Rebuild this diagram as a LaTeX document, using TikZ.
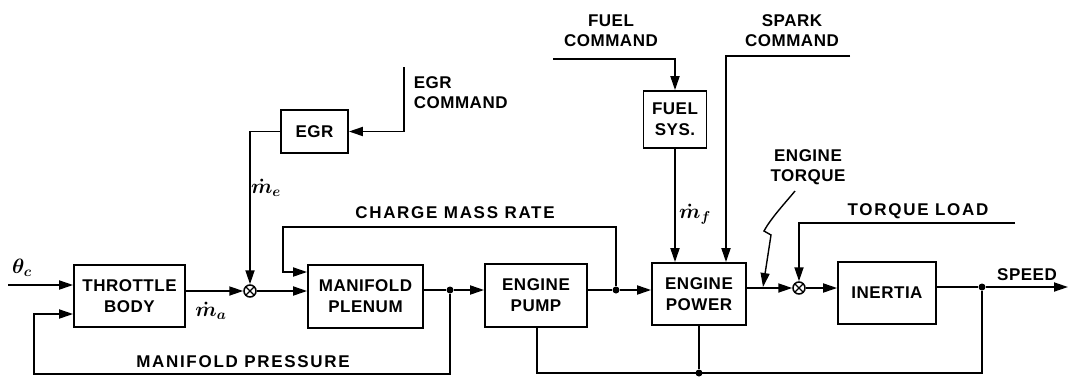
\documentclass[tikz,border=0pt]{standalone}
\usepackage{fontspec}
\setmainfont{Liberation Sans}
\newfontfamily\boxfont[LetterSpace=3,BoldFont={Liberation Sans Bold}]{Liberation Sans}
\newfontfamily\widefont[LetterSpace=10]{Liberation Sans}
\usetikzlibrary{arrows.meta}
\begin{document}
\begin{tikzpicture}[x=1pt,y=-1pt,
  line width=1.8pt,
  blk/.style={draw, rectangle, inner sep=0, align=center, line width=1.8pt,
    font=\boxfont\bfseries\fontsize{17}{21}\selectfont},
  arr/.style={-{Triangle[length=14pt,width=9pt]}},
  sumj/.style={circle, draw, minimum size=12pt, inner sep=0, line width=1.5pt,
    path picture={\draw[line width=1.3pt]
      (path picture bounding box.north west) -- (path picture bounding box.south east)
      (path picture bounding box.north east) -- (path picture bounding box.south west);}},
  dot/.style={circle, fill, inner sep=0, minimum size=7pt},
  lbl/.style={font=\boxfont\bfseries\fontsize{17}{20}\selectfont, align=center, inner sep=0},
  wlbl/.style={font=\widefont\bfseries\fontsize{17}{20}\selectfont, align=center, inner sep=0},
  sym/.style={font=\boldmath\fontsize{21}{24}\selectfont, inner sep=0}
]
\useasboundingbox (0,0) rectangle (1069,376);

% blocks
\node[blk, minimum width=111pt, minimum height=62pt] (throttle) at (129.5,296) {THROTTLE\\BODY};
\node[blk, minimum width=67pt, minimum height=43pt] (egr) at (314.5,131.5) {EGR};
\node[blk, minimum width=115pt, minimum height=63pt] (plenum) at (365.5,296.5) {MANIFOLD\\PLENUM};
\node[blk, minimum width=102pt, minimum height=63pt] (pump) at (536,295.5) {ENGINE\\PUMP};
\node[blk, minimum width=63pt, minimum height=57pt] (fuelsys) at (675,119.5) {FUEL\\SYS.};
\node[blk, minimum width=94pt, minimum height=62pt] (power) at (699,294) {ENGINE\\POWER};
\node[blk, minimum width=98pt, minimum height=62pt] (inertia) at (887,293) {INERTIA};

% summing junctions and branch dots
\node[sumj] (sum1) at (250,291) {};
\node[sumj] (sum2) at (799,288) {};
\node[dot] (dot1) at (450,290) {};
\node[dot] (dot2) at (616,290) {};
\node[dot] (dot3) at (982,287) {};
\node[dot] (dot4) at (699,373) {};

% free ends and corners
\coordinate (thin) at (8,285);
\coordinate (egrcmd) at (404,67);
\coordinate (cmr) at (283,227);
\coordinate (cmin) at (283,272);
\coordinate (mp1) at (450,374);
\coordinate (mp2) at (34,374);
\coordinate (mp3) at (34,314);
\coordinate (sp1) at (982,373);
\coordinate (sp2) at (537,373);
\coordinate (fc) at (553,59);
\coordinate (sc) at (850,56);
\coordinate (sc2) at (726,56);
\coordinate (tl) at (1015,223);
\coordinate (spd) at (1068,287);
\coordinate (et1) at (795,191);
\coordinate (et2) at (763,287);

% connectors
\draw[arr] (thin) -- (thin -| throttle.west);
\draw[arr] (throttle.east |- sum1.west) -- (sum1.west);
\draw[arr] (sum1.east) -- (sum1.east -| plenum.west);
\draw[arr] (egr.west) -| (sum1.north);
\draw[arr] (egrcmd) |- (egr.east);
\draw (plenum.east |- dot1) -- (dot1);
\draw[arr] (dot1) -- (dot1 -| pump.west);
\draw (pump.east |- dot2) -- (dot2);
\draw[arr] (dot2) -- (dot2 -| power.west);
\draw[arr] (dot2) |- (cmr) -- (cmin) -- (cmin -| plenum.west);
\draw[arr] (dot1) -- (mp1) -- (mp2) -- (mp3) -- (mp3 -| throttle.west);
\draw (dot3) -- (sp1) -- (sp2) -- (sp2 |- pump.south);
\draw (power.south) -- (dot4);
\draw[arr] (fc) -| (fuelsys.north);
\draw[arr] (fuelsys.south) -- (fuelsys.south |- power.north);
\draw[arr] (sc) -- (sc2) -- (sc2 |- power.north);
\draw[arr] (power.east |- sum2.west) -- (sum2.west);
\draw[arr] (tl) -| (sum2.north);
\draw[arr] (sum2.east) -- (sum2.east -| inertia.west);
\draw (inertia.east |- dot3) -- (dot3);
\draw[arr] (dot3) -- (spd);
\draw[arr, line width=1.4pt] (et1) .. controls (786,202) and (771,218) .. (764,231) -- (771,235) -- (et2);

% labels
\node[sym] (thc) at (22,268) {$\theta_c$};
\node[sym] (ma) at (211,311) {$\dot m_a$};
\node[sym] (me) at (266,188) {$\dot m_e$};
\node[sym] (mf) at (695,214) {$\dot m_f$};
\node[lbl, anchor=west, align=left] (egrl) at (413,93) {EGR\\COMMAND};
\node[wlbl] (cmrl) at (455,213) {CHARGE MASS RATE};
\node[wlbl] (mpl) at (243,362) {MANIFOLD PRESSURE};
\node[lbl] (fcl) at (611,31) {FUEL\\COMMAND};
\node[lbl] (scl) at (792,31) {SPARK\\COMMAND};
\node[lbl] (etl) at (808,167) {ENGINE\\TORQUE};
\node[wlbl] (tll) at (918,211) {TORQUE LOAD};
\node[lbl] (spl) at (1027,275) {SPEED};
\end{tikzpicture}
\end{document}
